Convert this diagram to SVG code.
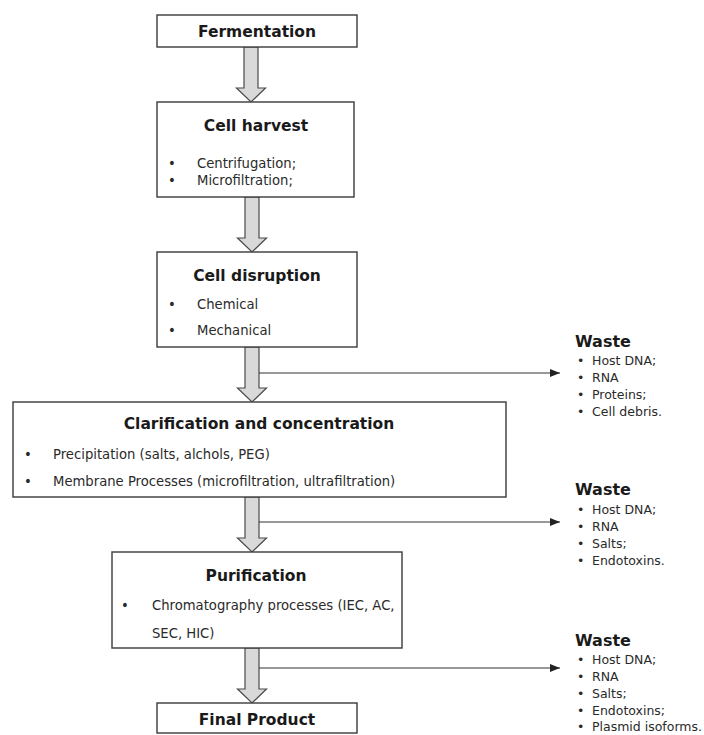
<svg xmlns="http://www.w3.org/2000/svg" xmlns:xlink="http://www.w3.org/1999/xlink" width="704" height="735" viewBox="0 0 704 735">
<style>
.box{fill:#fff;stroke:#3a3a3a;stroke-width:1.4}
.title{font-family:"DejaVu Sans","Liberation Sans",sans-serif;font-weight:bold;font-size:15.5px;fill:#1a1a1a;text-anchor:middle}
.body{font-family:"DejaVu Sans","Liberation Sans",sans-serif;font-size:13.2px;fill:#2a2a2a}
.wtitle{font-family:"DejaVu Sans","Liberation Sans",sans-serif;font-weight:bold;font-size:16px;fill:#1a1a1a}
.witem{font-family:"DejaVu Sans","Liberation Sans",sans-serif;font-size:12.5px;fill:#2a2a2a}
.big{fill:#d9d9d9;stroke:#4a4a4a;stroke-width:1.2}
.line{stroke:#333;stroke-width:1;fill:none}
</style>
<defs>
<path id="blockArrow" class="big" d="M-7,0 L7,0 L7,41 L14.5,41 L0,55 L-14.5,41 L-7,41 Z"/>
<marker id="tip" markerWidth="10" markerHeight="8" refX="10" refY="4" orient="auto" markerUnits="userSpaceOnUse">
<path d="M0,0 L10,4 L0,8 Z" fill="#222"/>
</marker>
</defs>

<g id="connectors">
<use xlink:href="#blockArrow" href="#blockArrow" transform="translate(251,47)"/>
<use xlink:href="#blockArrow" href="#blockArrow" transform="translate(252,197)"/>
<use xlink:href="#blockArrow" href="#blockArrow" transform="translate(252,347)"/>
<use xlink:href="#blockArrow" href="#blockArrow" transform="translate(252,497)"/>
<use xlink:href="#blockArrow" href="#blockArrow" transform="translate(252,648)"/>
<line class="line" x1="259" y1="373" x2="560" y2="373" marker-end="url(#tip)"/>
<line class="line" x1="259" y1="522" x2="560" y2="522" marker-end="url(#tip)"/>
<line class="line" x1="259" y1="668" x2="560" y2="668" marker-end="url(#tip)"/>
</g>

<g id="fermentation">
<rect class="box" x="157" y="15" width="200" height="32"/>
<text class="title" x="257" y="37">Fermentation</text>
</g>

<g id="cell-harvest">
<rect class="box" x="157" y="102" width="197" height="95"/>
<text class="title" x="256" y="131">Cell harvest</text>
<text class="body" x="168" y="168">•</text>
<text class="body" x="197" y="168">Centrifugation;</text>
<text class="body" x="168" y="185">•</text>
<text class="body" x="197" y="185">Microfiltration;</text>
</g>

<g id="cell-disruption">
<rect class="box" x="157" y="252" width="200" height="95"/>
<text class="title" x="257" y="281">Cell disruption</text>
<text class="body" x="168" y="309">•</text>
<text class="body" x="197" y="309">Chemical</text>
<text class="body" x="168" y="335">•</text>
<text class="body" x="197" y="335">Mechanical</text>
</g>

<g id="clarification">
<rect class="box" x="13" y="402" width="493" height="95"/>
<text class="title" x="259" y="429">Clarification and concentration</text>
<text class="body" x="24" y="459">•</text>
<text class="body" x="53" y="459">Precipitation (salts, alchols, PEG)</text>
<text class="body" x="24" y="486">•</text>
<text class="body" x="53" y="486">Membrane Processes (microfiltration, ultrafiltration)</text>
</g>

<g id="purification">
<rect class="box" x="112" y="552" width="290" height="96"/>
<text class="title" x="256" y="581">Purification</text>
<text class="body" x="121" y="610">•</text>
<text class="body" x="152" y="610">Chromatography processes (IEC, AC,</text>
<text class="body" x="152" y="638">SEC, HIC)</text>
</g>

<g id="final-product">
<rect class="box" x="157" y="703" width="200" height="30"/>
<text class="title" x="257" y="725">Final Product</text>
</g>

<g id="waste-1">
<text class="wtitle" x="575" y="347">Waste</text>
<text class="witem" x="577" y="365">•</text><text class="witem" x="592" y="365">Host DNA;</text>
<text class="witem" x="577" y="382">•</text><text class="witem" x="592" y="382">RNA</text>
<text class="witem" x="577" y="399">•</text><text class="witem" x="592" y="399">Proteins;</text>
<text class="witem" x="577" y="416">•</text><text class="witem" x="592" y="416">Cell debris.</text>
</g>

<g id="waste-2">
<text class="wtitle" x="575" y="495">Waste</text>
<text class="witem" x="577" y="514">•</text><text class="witem" x="592" y="514">Host DNA;</text>
<text class="witem" x="577" y="531">•</text><text class="witem" x="592" y="531">RNA</text>
<text class="witem" x="577" y="548">•</text><text class="witem" x="592" y="548">Salts;</text>
<text class="witem" x="577" y="565">•</text><text class="witem" x="592" y="565">Endotoxins.</text>
</g>

<g id="waste-3">
<text class="wtitle" x="575" y="646">Waste</text>
<text class="witem" x="577" y="664">•</text><text class="witem" x="592" y="664">Host DNA;</text>
<text class="witem" x="577" y="681">•</text><text class="witem" x="592" y="681">RNA</text>
<text class="witem" x="577" y="698">•</text><text class="witem" x="592" y="698">Salts;</text>
<text class="witem" x="577" y="715">•</text><text class="witem" x="592" y="715">Endotoxins;</text>
<text class="witem" x="577" y="731">•</text><text class="witem" x="592" y="731">Plasmid isoforms.</text>
</g>
</svg>
